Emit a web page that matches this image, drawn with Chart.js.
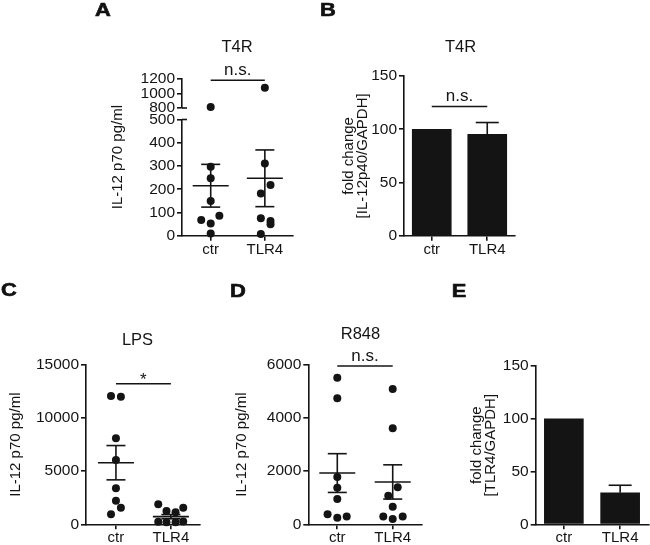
<!DOCTYPE html>
<html>
<head>
<meta charset="utf-8">
<title>IL-12 p70 and TLR4 in ctr vs TLR4 cells</title>
<script src="https://cdn.jsdelivr.net/npm/chart.js@4.4.1/dist/chart.umd.min.js"></script>
<style>
  html, body { margin: 0; padding: 0; background: #ffffff; }
  #fig { position: relative; width: 650px; height: 545px; overflow: hidden; background: #ffffff; }
  #fig canvas { position: absolute; }
  .letter { position: absolute; width: 30px; text-align: center; font: bold 17.5px 'Liberation Sans', Arial, sans-serif; line-height: 1; color: #111111; transform: scaleX(1.25); -webkit-text-stroke: 0.6px #111111; }
</style>
</head>
<body>
<div id="fig">
  <canvas id="panelA" width="274" height="270" style="left:100px;top:0px"></canvas>
  <canvas id="panelB" width="261" height="270" style="left:330px;top:0px"></canvas>
  <canvas id="panelC" width="275" height="265" style="left:0px;top:280px"></canvas>
  <canvas id="panelD" width="271" height="265" style="left:225px;top:280px"></canvas>
  <canvas id="panelE" width="195" height="265" style="left:455px;top:280px"></canvas>
  <div class="letter" style="left:88px;top:2px">A</div>
  <div class="letter" style="left:313px;top:2px">B</div>
  <div class="letter" style="left:-6px;top:282px">C</div>
  <div class="letter" style="left:223px;top:283px">D</div>
  <div class="letter" style="left:444px;top:283px">E</div>
</div>
<script>
// ---------------- data ----------------
const categories = ['ctr', 'TLR4'];

// A: T4R, IL-12 p70 (pg/ml), broken y axis
const aTitle = 'T4R';
const aCtr = [815, 297, 247, 149, 68, 53, 86, 10];
const aCtrJitter = [0, 0, 0, 0, -0.175, 0, 0.16, 0];
const aTlr4 = [1076, 311, 218, 182, 75, 63, 49, 7];
const aTlr4Jitter = [0, 0, 0.105, -0.074, -0.074, 0.105, 0.105, -0.074];
const aMean = [215, 247];
const aSem = [92, 122];
const aTicksLower = [0, 100, 200, 300, 400, 500];
const aTicksUpper = [800, 1000, 1200];
const aBracket = 1177;

// B: T4R, fold change IL-12p40/GAPDH
const bTitle = 'T4R';
const bValues = [100, 95.3];
const bSem = [0, 11];
const bTicks = [0, 50, 100, 150];
const bBracket = 121.4;

// C: LPS, IL-12 p70 (pg/ml)
const cTitle = 'LPS';
const cCtr = [12080, 12000, 8100, 6050, 3390, 2220, 1560, 940];
const cCtrJitter = [-0.09, 0.09, 0, 0, 0, 0, 0.09, -0.09];
const cTlr4 = [1880, 1250, 1130, 1560, 230, 200, 200, 260];
const cTlr4Jitter = [-0.23, -0.08, 0.085, 0.225, -0.23, -0.08, 0.085, 0.225];
const cMean = [5800, 720];
const cSem = [1615, 200];
const cTicks = [0, 5000, 10000, 15000];
const cBracket = 13240;

// D: R848, IL-12 p70 (pg/ml)
const dTitle = 'R848';
const dCtr = [5520, 4745, 1780, 1380, 950, 380, 250, 290];
const dCtrJitter = [0, 0, 0, 0, 0, -0.175, 0, 0.17];
const dTlr4 = [5100, 3620, 1080, 1400, 665, 290, 200, 290];
const dTlr4Jitter = [0, 0, -0.08, 0.09, 0, -0.17, 0, 0.18];
const dMean = [1930, 1595];
const dSem = [730, 645];
const dTicks = [0, 2000, 4000, 6000];
const dBracket = 5960;

// E: fold change TLR4/GAPDH
const eValues = [100, 29.8];
const eSem = [0, 7.2];
const eTicks = [0, 50, 100, 150];

// ---------------- style ----------------
const INK = '#141414';
const FONT = "'Liberation Sans', Arial, Helvetica, sans-serif";
const AXIS_W = 1.6;
const tickFont = { size: 15.5 };
const xTickFont = { size: 15 };
const yTitleFont = { size: 15, lineHeight: 0.95 };
const TITLE_SIZE = 16.5;
const TITLE_LH = TITLE_SIZE * 1.2;

Chart.defaults.font.family = FONT;
Chart.defaults.color = INK;
Chart.defaults.animation = false;

// annotations: mean ± SEM, bar whiskers, significance brackets, axis breaks
const annot = {
  id: 'annot',
  afterDatasetsDraw(chart, args, o) {
    const ctx = chart.ctx;
    const xs = chart.scales.x;
    const cx = i => xs.type === 'category' ? xs.getPixelForValue(i) : xs.getPixelForValue(i + 1);
    const line = (x1, y1, x2, y2) => { ctx.beginPath(); ctx.moveTo(x1, y1); ctx.lineTo(x2, y2); ctx.stroke(); };
    ctx.save();
    ctx.strokeStyle = INK; ctx.fillStyle = INK; ctx.lineWidth = AXIS_W; ctx.lineCap = 'butt';
    if (o.stats) {
      const ys = chart.scales[o.stats.axis];
      o.stats.mean.forEach((m, i) => {
        const s = o.stats.sem[i];
        const x = cx(i);
        const yM = ys.getPixelForValue(m), yT = ys.getPixelForValue(m + s), yB = ys.getPixelForValue(m - s);
        line(x - 18, yM, x + 18, yM);
        line(x, yT, x, yB);
        line(x - 9.5, yT, x + 9.5, yT);
        line(x - 9.5, yB, x + 9.5, yB);
      });
    }
    if (o.whiskers) {
      const ys = chart.scales[o.whiskers.axis];
      o.whiskers.value.forEach((v, i) => {
        const s = o.whiskers.sem[i];
        if (!s) return;
        const x = cx(i), y0 = ys.getPixelForValue(v), y1 = ys.getPixelForValue(v + s);
        line(x, y0, x, y1);
        line(x - 11.5, y1, x + 11.5, y1);
      });
    }
    if (o.bracket) {
      const ys = chart.scales[o.bracket.axis];
      const y = ys.getPixelForValue(o.bracket.value);
      const x1 = cx(0), x2 = cx(1);
      line(x1, y, x2, y);
      ctx.font = (o.bracket.size || 17) + 'px ' + FONT;
      ctx.textAlign = 'center'; ctx.textBaseline = 'alphabetic';
      ctx.fillText(o.bracket.text, (x1 + x2) / 2, y - o.bracket.gap);
    }
    if (o.breaks) {
      o.breaks.forEach(b => {
        const s = chart.scales[b.axis];
        const y = s.getPixelForValue(b.value);
        line(s.right, y, s.right + 5, y);
      });
    }
    ctx.restore();
  }
};
Chart.register(annot);

function setTicks(list) { return s => { s.ticks = list.map(v => ({ value: v })); }; }
function setWidth(w) { return s => { s.width = w; }; }
function setHeight(h) { return s => { s.height = h; }; }

function yScale(cfg) {
  return Object.assign({
    type: 'linear', position: 'left', min: cfg.min, max: cfg.max,
    afterBuildTicks: setTicks(cfg.ticks),
    afterFit: setWidth(cfg.width),
    border: { display: true, color: INK, width: AXIS_W },
    grid: { display: true, drawOnChartArea: false, drawTicks: true, tickLength: 5, color: INK, lineWidth: AXIS_W },
    ticks: { autoSkip: false, padding: 2, font: tickFont, color: INK, callback: v => String(v) },
    title: cfg.title ? { display: true, text: cfg.title, font: yTitleFont, color: INK, padding: { top: cfg.titlePad, bottom: 0 } } : { display: false }
  }, cfg.extra || {});
}

// invisible axis used only for spacing / a shared axis title
function hidden(cfg) {
  return Object.assign({
    type: 'linear', position: 'left', min: 0, max: 1,
    afterFit: setWidth(cfg.width),
    border: { display: false }, grid: { display: false }, ticks: { display: false },
    title: cfg.title ? { display: true, text: cfg.title, font: { size: 15, lineHeight: 1.2 }, color: INK, padding: { top: cfg.titlePad, bottom: 0 } } : { display: false }
  }, cfg.extra || {});
}

function xLinear(min, max, height) {
  return {
    type: 'linear', position: 'bottom', min, max,
    afterBuildTicks: setTicks(categories.map((c, i) => i + 1)),
    afterFit: setHeight(height),
    border: { display: true, color: INK, width: AXIS_W },
    grid: { display: true, drawOnChartArea: false, drawTicks: true, tickLength: 5, color: INK, lineWidth: AXIS_W },
    ticks: { autoSkip: false, maxRotation: 0, padding: 0, font: xTickFont, color: INK, callback: v => categories[Math.round(v) - 1] }
  };
}

function xCategory(height) {
  return {
    type: 'category', position: 'bottom', offset: true,
    afterFit: setHeight(height),
    border: { display: true, color: INK, width: AXIS_W },
    grid: { display: true, offset: false, drawOnChartArea: false, drawTicks: true, tickLength: 5, color: INK, lineWidth: AXIS_W },
    ticks: { autoSkip: false, maxRotation: 0, padding: 0, font: xTickFont, color: INK }
  };
}

function titleOpt(text, panelTop, titleY, caTop) {
  return {
    display: true, text, color: INK,
    font: { size: TITLE_SIZE, weight: 'normal' },
    padding: { top: titleY - panelTop - TITLE_LH / 2, bottom: caTop - titleY - TITLE_LH / 2 }
  };
}

const dot = { pointRadius: 4, pointHoverRadius: 4, pointBackgroundColor: INK, backgroundColor: INK, pointBorderWidth: 0, borderWidth: 0, clip: false, showLine: false };
function pts(values, jitter, pos) { return values.map((v, i) => ({ x: pos + jitter[i], y: v })); }

const common = { responsive: false, maintainAspectRatio: false, animation: false, events: [] };
const noPad = { padding: { left: 0, right: 0, top: 0, bottom: 0 } };

// ---------------- Panel A ----------------
(function () {
  const brk = aTicksLower[aTicksLower.length - 1];
  const ds = [];
  [[aCtr, aCtrJitter, 1], [aTlr4, aTlr4Jitter, 2]].forEach(([vals, jit, pos]) => {
    const all = pts(vals, jit, pos);
    ds.push(Object.assign({}, dot, { data: all.filter(p => p.y <= brk), yAxisID: 'yL' }));
    ds.push(Object.assign({}, dot, { data: all.filter(p => p.y > brk), yAxisID: 'yU' }));
  });
  new Chart(document.getElementById('panelA'), {
    type: 'scatter',
    data: { datasets: ds },
    options: Object.assign({}, common, {
      layout: noPad,
      scales: {
        x: xLinear(0.47, 2.52, 34.3),
        yTitle: hidden({ width: 27, title: 'IL-12 p70 pg/ml', titlePad: 9.3, extra: { weight: 3 } }),
        yU: yScale({ min: 800, max: 1200, ticks: aTicksUpper, width: 55, extra: { stack: 'a', stackWeight: 29.4, weight: 2 } }),
        yGap: hidden({ width: 55, extra: { stack: 'a', stackWeight: 11.5, weight: 1 } }),
        yL: yScale({ min: 0, max: 500, ticks: aTicksLower, width: 55, extra: { stack: 'a', stackWeight: 116.2, weight: 0 } }),
        yR: hidden({ width: 81, extra: { position: 'right' } })
      },
      plugins: {
        legend: { display: false }, tooltip: { enabled: false },
        title: titleOpt(aTitle, 0, 47, 78.6),
        annot: {
          stats: { axis: 'yL', mean: aMean, sem: aSem },
          bracket: { axis: 'yU', value: aBracket, text: 'n.s.', gap: 5 },
          breaks: [{ axis: 'yU', value: 800 }, { axis: 'yL', value: brk }]
        }
      }
    })
  });
})();

// ---------------- Panel B ----------------
new Chart(document.getElementById('panelB'), {
  type: 'bar',
  data: { labels: categories, datasets: [{ data: bValues, backgroundColor: INK, borderWidth: 0, barThickness: 39 }] },
  options: Object.assign({}, common, {
    layout: noPad,
    scales: {
      x: xCategory(34.3),
      y: yScale({ min: 0, max: 150, ticks: bTicks, width: 74, title: ['fold change', '[IL-12p40/GAPDH]'], titlePad: 11.9 }),
      yR: hidden({ width: 76, extra: { position: 'right' } })
    },
    plugins: {
      legend: { display: false }, tooltip: { enabled: false },
      title: titleOpt(bTitle, 0, 47, 76),
      annot: {
        whiskers: { axis: 'y', value: bValues, sem: bSem },
        bracket: { axis: 'y', value: bBracket, text: 'n.s.', gap: 5 }
      }
    }
  })
});

// ---------------- Panel C ----------------
new Chart(document.getElementById('panelC'), {
  type: 'scatter',
  data: { datasets: [
    Object.assign({}, dot, { data: pts(cCtr, cCtrJitter, 1) }),
    Object.assign({}, dot, { data: pts(cTlr4, cTlr4Jitter, 2) })
  ] },
  options: Object.assign({}, common, {
    layout: noPad,
    scales: {
      x: xLinear(0.455, 2.53, 20.7),
      y: yScale({ min: 0, max: 15000, ticks: cTicks, width: 86, title: 'IL-12 p70 pg/ml', titlePad: 9 }),
      yR: hidden({ width: 75, extra: { position: 'right' } })
    },
    plugins: {
      legend: { display: false }, tooltip: { enabled: false },
      title: titleOpt(cTitle, 280, 340, 365),
      annot: {
        stats: { axis: 'y', mean: cMean, sem: cSem },
        bracket: { axis: 'y', value: cBracket, text: '*', gap: -1 }
      }
    }
  })
});

// ---------------- Panel D ----------------
new Chart(document.getElementById('panelD'), {
  type: 'scatter',
  data: { datasets: [
    Object.assign({}, dot, { data: pts(dCtr, dCtrJitter, 1) }),
    Object.assign({}, dot, { data: pts(dTlr4, dTlr4Jitter, 2) })
  ] },
  options: Object.assign({}, common, {
    layout: noPad,
    scales: {
      x: xLinear(0.477, 2.523, 20.7),
      y: yScale({ min: 0, max: 6000, ticks: dTicks, width: 83.3, title: 'IL-12 p70 pg/ml', titlePad: 9.7 }),
      yR: hidden({ width: 74.3, extra: { position: 'right' } })
    },
    plugins: {
      legend: { display: false }, tooltip: { enabled: false },
      title: titleOpt(dTitle, 280, 334, 365),
      annot: {
        stats: { axis: 'y', mean: dMean, sem: dSem },
        bracket: { axis: 'y', value: dBracket, text: 'n.s.', gap: 5 }
      }
    }
  })
});

// ---------------- Panel E ----------------
new Chart(document.getElementById('panelE'), {
  type: 'bar',
  data: { labels: categories, datasets: [{ data: eValues, backgroundColor: INK, borderWidth: 0, barThickness: 39 }] },
  options: Object.assign({}, common, {
    layout: { padding: { left: 0, right: 1.7, top: 86, bottom: 0 } },
    scales: {
      x: xCategory(20.7),
      y: yScale({ min: 0, max: 150, ticks: eTicks, width: 80.7, title: ['fold change', '[TLR4/GAPDH]'], titlePad: 14.4 })
    },
    plugins: {
      legend: { display: false }, tooltip: { enabled: false },
      title: { display: false },
      annot: { whiskers: { axis: 'y', value: eValues, sem: eSem } }
    }
  })
});
</script>
</body>
</html>
